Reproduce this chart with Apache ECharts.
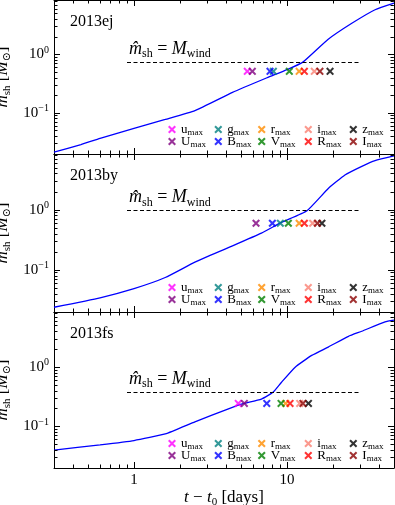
<!DOCTYPE html>
<html>
<head>
<meta charset="utf-8">
<script src="https://cdn.jsdelivr.net/npm/echarts@6/dist/echarts.min.js"></script>
<style>
html, body { margin: 0; padding: 0; background: #fff; }
#chart { width: 395px; height: 505px; }
</style>
</head>
<body>
<div id="chart"></div>
<script>
// one panel per supernova
var snNames = ['2013ej', '2013by', '2013fs'];
var windMass = [0.74, 0.97, 0.377];      // dashed level  m_sh = M_wind
var peakLevel = [0.515, 0.60, 0.245];    // height of the x markers
var windFrom = 0.9, windTo = 30;

// m_sh(t) curves
var days_ej = [0.3, 0.45, 0.6, 1.0, 1.6, 2.5, 4.4, 7.4, 10, 12.7, 18.5, 26.5, 37.6, 50];
var msh_ej  = [0.0215, 0.029, 0.037, 0.055, 0.078, 0.11, 0.225, 0.40, 0.55, 0.74, 1.8, 3.4, 5.8, 7.5];
var days_by = [0.3, 0.6, 1.0, 1.6, 2.5, 4.1, 6.8, 9.2, 13.5, 18.6, 23.9, 30.8, 37.6, 50];
var msh_by  = [0.024, 0.0345, 0.049, 0.075, 0.135, 0.233, 0.41, 0.62, 0.97, 2.27, 3.8, 5.3, 6.6, 7.9];
var days_fs = [0.3, 0.6, 1.0, 1.6, 2.5, 4.1, 5.1, 6.8, 8.1, 9.2, 11.3, 14.5, 18.6, 25.2, 30.8, 43.7, 50];
var msh_fs  = [0.040, 0.049, 0.058, 0.075, 0.12, 0.197, 0.24, 0.29, 0.377, 0.557, 1.0, 1.58, 2.18, 3.31, 4.03, 5.8, 6.2];

// band peak times (days), order u U g B r V i R z I
var bands = ['u', 'U', 'g', 'B', 'r', 'V', 'i', 'R', 'z', 'I'];
var bandColors = ['#ff00ff', '#800080', '#008080', '#0000ff', '#ff8c00', '#008000', '#fa8072', '#ff0000', '#000000', '#8b0000'];
var peak_ej = [5.5, 5.93, 8.14, 7.74, 12.0, 10.35, 15.07, 12.98, 19.1, 16.4];
var peak_by = [null, 6.27, 9.04, 8.02, 12.0, 10.2, 14.7, 12.98, 16.9, 15.8];
var peak_fs = [4.8, 5.26, null, 7.37, 9.8, 9.14, 12.1, 10.46, 13.8, 12.7];

var xMin = 0.3, xMax = 50, yMin = 0.02, yMax = 8.5;

var curves = [[days_ej, msh_ej], [days_by, msh_by], [days_fs, msh_fs]];
var peaks = [peak_ej, peak_by, peak_fs];

var SERIF = "'Liberation Serif', 'DejaVu Serif', serif";
var XMARK = 'path://M0,1.8L1.8,0L5,3.2L8.2,0L10,1.8L6.8,5L10,8.2L8.2,10L5,6.8L1.8,10L0,8.2L3.2,5Z';

var gridLeft = 54, gridRight = 394;
var gridTop = [0, 154, 312];
var gridH = [154, 158, 156];
var MAJOR = 6, MINOR = 3.5;   // tick lengths, px

function richSet(base, small) {
    return {
        n: { fontFamily: SERIF, fontSize: base, color: '#000' },
        i: { fontFamily: SERIF, fontSize: base, fontStyle: 'italic', color: '#000' },
        sub: { fontFamily: SERIF, fontSize: small, color: '#000', padding: [Math.round(base * 0.55), 0, 0, 0] },
        sup: { fontFamily: SERIF, fontSize: small, color: '#000', padding: [0, 0, Math.round(base * 0.6), 0] }
    };
}

function isPow10(v) {
    var l = Math.log10(v);
    return Math.abs(l - Math.round(l)) < 1e-6;
}

// 2..9 x 10^k values inside a log range
function minorTicks(min, max) {
    var out = [];
    for (var k = -3; k <= 3; k++) {
        for (var m = 2; m <= 9; m++) {
            var v = m * Math.pow(10, k);
            if (v > min * 1.0001 && v < max * 0.9999) out.push(v);
        }
    }
    return out;
}

// minor ticks as short markLine segments, kept a hair inside the frame
function minorTickLines(p) {
    var W = gridRight - gridLeft, H = gridH[p];
    var e = 1.002;
    var fy = Math.pow(yMax / yMin, MINOR / H), fx = Math.pow(xMax / xMin, MINOR / W);
    var st = { type: 'solid', color: '#000', width: 1 };
    var segs = [];
    function seg(a, b) { segs.push([{ coord: a, lineStyle: st, label: { show: false } }, { coord: b }]); }
    minorTicks(xMin, xMax).forEach(function (v) {
        seg([v, yMin * e], [v, yMin * fy]);
        seg([v, yMax / e], [v, yMax / fy]);
    });
    minorTicks(yMin, yMax).forEach(function (v) {
        seg([xMin * e, v], [xMin * fx, v]);
        seg([xMax / e, v], [xMax / fx, v]);
    });
    return segs;
}

function frameAxis(extra) {
    var a = {
        axisLine: { show: true, lineStyle: { color: '#000', width: 1 } },
        axisTick: { show: true, inside: true, length: MAJOR, lineStyle: { color: '#000', width: 1 } },
        splitLine: { show: false }
    };
    for (var k in extra) a[k] = extra[k];
    return a;
}

var grids = [], xAxes = [], yAxes = [], series = [], titles = [], legends = [];
var legendX = [172, 218.3, 261.7, 308.3, 353.3];
var legendRow = [-23, -11];

snNames.forEach(function (sn, p) {
    grids.push({ left: gridLeft, right: 395 - gridRight, top: gridTop[p], height: gridH[p], containLabel: false, outerBoundsMode: 'none' });
    var last = p === snNames.length - 1;
    xAxes.push(frameAxis({
        type: 'log', gridIndex: p, min: xMin, max: xMax, position: 'bottom',
        axisLabel: {
            show: last, margin: 5,
            formatter: function (v) { return isPow10(v) ? String(Math.round(v)) : ''; },
            fontFamily: SERIF, fontSize: 15, color: '#000'
        },
        name: last ? '{i|t}{n| − }{i|t}{sub|0}{n| [days]}' : '',
        nameLocation: 'middle', nameGap: 14,
        nameTextStyle: { rich: richSet(17, 11) }
    }));
    xAxes.push(frameAxis({
        type: 'log', gridIndex: p, min: xMin, max: xMax, position: 'top', axisLabel: { show: false }
    }));
    yAxes.push(frameAxis({
        type: 'log', gridIndex: p, min: yMin, max: yMax, position: 'left',
        axisLabel: {
            margin: 5,
            formatter: function (v) {
                if (!isPow10(v)) return '';
                var e = Math.round(Math.log10(v));
                return '{n|10}{sup|' + (e < 0 ? '−' + (-e) : e) + '}';
            },
            rich: richSet(15, 10)
        },
        name: '{i|m̂}{sub|sh}{n| [}{i|M}{sub|⊙}{n|]}',
        nameLocation: 'middle', nameGap: 35, nameRotate: 90,
        nameTextStyle: { rich: richSet(17, 11) }
    }));
    yAxes.push(frameAxis({
        type: 'log', gridIndex: p, min: yMin, max: yMax, position: 'right', axisLabel: { show: false }
    }));

    var xi = 2 * p, yi = 2 * p;
    var c = curves[p];
    var windSeg = [{ coord: [windFrom, windMass[p]] }, { coord: [windTo, windMass[p]] }];
    series.push({
        type: 'line', name: 'msh' + p, xAxisIndex: xi, yAxisIndex: yi,
        data: c[0].map(function (d, k) { return [d, c[1][k]]; }),
        showSymbol: false, smooth: 0.15,
        lineStyle: { color: '#0000ff', width: 1.3 }, z: 3,
        markLine: {
            silent: true, symbol: 'none', animation: false,
            lineStyle: { color: '#000', width: 1, type: [4, 2.5] },
            label: {
                show: true, position: 'insideStartTop', distance: 2, padding: 0,
                formatter: '{i|m̂}{sub|sh}{n| = }{i|M}{sub|wind}',
                rich: richSet(18, 12)
            },
            data: [windSeg].concat(minorTickLines(p))
        }
    });
    bands.forEach(function (b, k) {
        var t = peaks[p][k];
        series.push({
            type: 'scatter', name: b, xAxisIndex: xi, yAxisIndex: yi,
            symbol: XMARK, symbolSize: 8,
            itemStyle: { color: bandColors[k] },
            data: t == null ? [] : [[t, peakLevel[p]]], z: 4
        });
    });

    titles.push({
        text: sn, left: 70, top: gridTop[p] + 14, padding: 0,
        textStyle: { fontFamily: SERIF, fontSize: 16, fontWeight: 'normal', color: '#000' }
    });

    var bottom = gridTop[p] + gridH[p];
    bands.forEach(function (b, k) {
        var col = Math.floor(k / 2), row = k % 2;
        legends.push({
            left: legendX[col] - 4, top: bottom + legendRow[row] - 8,
            padding: 0, itemWidth: 8, itemHeight: 8, selectedMode: false,
            icon: XMARK, data: [b],
            formatter: function (name) { return '{n|' + name + '}{sub|max}'; },
            textStyle: { rich: richSet(13, 9) }
        });
    });
});

echarts.init(document.getElementById('chart')).setOption({
    animation: false,
    title: titles,
    legend: legends,
    grid: grids,
    xAxis: xAxes,
    yAxis: yAxes,
    series: series
});
</script>
</body>
</html>
